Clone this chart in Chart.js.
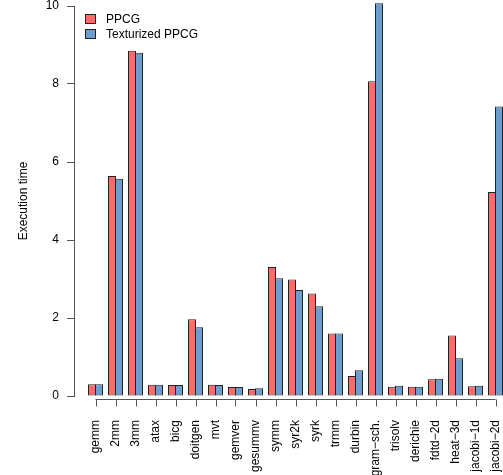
<!DOCTYPE html>
<html>
<head>
<meta charset="utf-8">
<script src="https://cdn.jsdelivr.net/npm/chart.js@4/dist/chart.umd.min.js"></script>
<style>
    html, body { margin: 0; padding: 0; background: #fff; }
    #wrap { width: 503px; height: 475px; }
</style>
</head>
<body>
<div id="wrap"><canvas id="grafico"></canvas></div>
<script>
const categorie = ["gemm", "2mm", "3mm", "atax", "bicg", "doitgen", "mvt", "gemver", "gesummv",
    "symm", "syr2k", "syrk", "trmm", "durbin", "gram\u2212sch.", "trisolv", "derichie",
    "fdtd\u22122d", "heat\u22123d", "jacobi\u22121d", "jacobi\u22122d"];
const ppcg = [0.30, 5.64, 8.85, 0.29, 0.28, 1.97, 0.29, 0.23, 0.18, 3.31, 2.99, 2.63, 1.60,
    0.51, 8.07, 0.24, 0.24, 0.43, 1.55, 0.25, 5.23];
const texturized = [0.30, 5.57, 8.80, 0.29, 0.28, 1.76, 0.28, 0.23, 0.20, 3.02, 2.72, 2.30, 1.60,
    0.66, 10.07, 0.26, 0.24, 0.44, 0.97, 0.26, 7.42];
const yTicks = [0, 2, 4, 6, 8, 10];
const nomiSerie = ["PPCG", "Texturized PPCG"];
const colori = ["#FF6B6B", "#6C9DCC"];

const FONT = "Liberation Sans, Arial, Helvetica, sans-serif";
const AXIS = "#555";

// asse x in stile R (linea solo tra il primo e l'ultimo tick) + legenda
const assiR = {
    id: "assiR",
    afterDraw(chart) {
        const ctx = chart.ctx;
        const x = chart.scales.x;
        const area = chart.chartArea;
        const yLine = area.bottom + 3.5;
        ctx.save();
        ctx.strokeStyle = AXIS;
        ctx.lineWidth = 1;
        ctx.beginPath();
        ctx.moveTo(x.getPixelForValue(0), yLine);
        ctx.lineTo(x.getPixelForValue(categorie.length - 1), yLine);
        categorie.forEach((c, i) => {
            const px = Math.round(x.getPixelForValue(i)) + 0.5;
            ctx.moveTo(px, yLine);
            ctx.lineTo(px, yLine + 7);
        });
        ctx.stroke();

        // legenda
        ctx.font = "12px " + FONT;
        ctx.textBaseline = "middle";
        nomiSerie.forEach((nome, i) => {
            const bx = area.left + 11.5;
            const by = area.top + 8.5 + i * 15;
            ctx.fillStyle = colori[i];
            ctx.fillRect(bx, by, 10, 9);
            ctx.strokeStyle = "#222";
            ctx.strokeRect(bx, by, 10, 9);
            ctx.fillStyle = "#000";
            ctx.fillText(nome, area.left + 32, by + 5);
        });
        ctx.restore();
    }
};

const dataset = (label, valori, colore) => ({
    label: label,
    data: valori.map((v, i) => ({ x: i, y: v })),
    backgroundColor: colore,
    borderColor: "#222",
    borderWidth: 1,
    borderSkipped: false,
    categoryPercentage: 0.7,
    barPercentage: 8 / 7,
    clip: false
});

new Chart(document.getElementById("grafico"), {
    type: "bar",
    data: {
        datasets: [
            dataset(nomiSerie[0], ppcg, colori[0]),
            dataset(nomiSerie[1], texturized, colori[1])
        ]
    },
    plugins: [assiR],
    options: {
        responsive: true,
        maintainAspectRatio: false,
        animation: false,
        layout: { padding: { top: 6, right: 0, left: 0, bottom: 0 } },
        plugins: {
            legend: { display: false },
            tooltip: { enabled: false }
        },
        scales: {
            x: {
                type: "linear",
                offset: false,
                min: -1.075,
                max: 20.375,
                afterBuildTicks: s => { s.ticks = categorie.map((c, i) => ({ value: i })); },
                afterFit: s => {
                    s.height = 79;
                    s.paddingLeft = 0;
                    s.paddingRight = 0;
                },
                grid: { display: false, offset: false },
                border: { display: false },
                ticks: {
                    autoSkip: false,
                    maxRotation: 90,
                    minRotation: 90,
                    padding: 16,
                    color: "#000",
                    font: { family: FONT, size: 12 },
                    callback: v => categorie[v]
                }
            },
            y: {
                min: 0,
                max: 10,
                afterBuildTicks: s => { s.ticks = yTicks.map(v => ({ value: v })); },
                afterFit: s => {
                    s.width = 74;
                    s.paddingTop = 0;
                    s.paddingBottom = 0;
                },
                grid: {
                    drawOnChartArea: false,
                    tickLength: 7,
                    color: AXIS
                },
                border: { color: AXIS },
                ticks: {
                    padding: 8,
                    color: "#000",
                    font: { family: FONT, size: 12 }
                },
                title: {
                    display: true,
                    text: "Execution time",
                    color: "#000",
                    font: { family: FONT, size: 12 },
                    padding: { top: 16, bottom: 0 }
                }
            }
        }
    }
});
</script>
</body>
</html>
